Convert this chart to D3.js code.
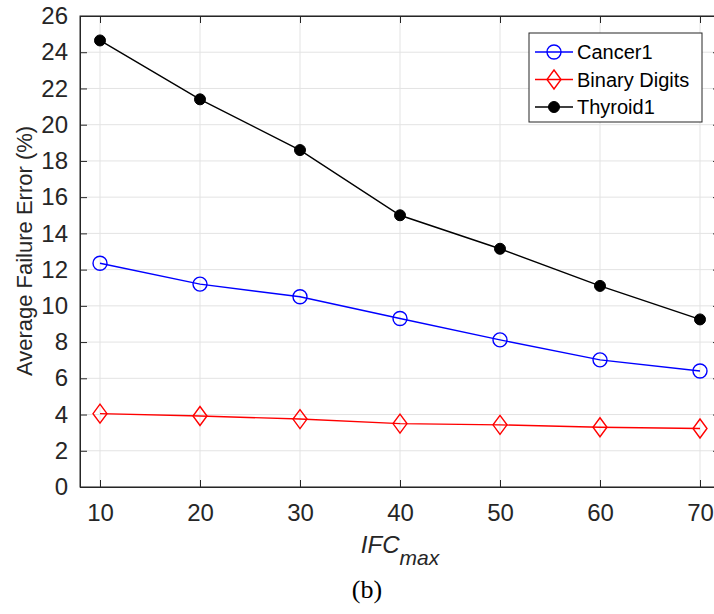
<!DOCTYPE html>
<html>
<head>
<meta charset="utf-8">
<script src="https://cdn.jsdelivr.net/npm/d3@7"></script>
<style>
  body { margin: 0; background: #fff; }
  text { font-family: "Liberation Sans", Arial, sans-serif; }
</style>
</head>
<body>
<div id="viz"></div>
<script>
const width = 714
const height = 614
const margin = {top: 16, bottom: 127, right: -6, left: 80}

// data
const ifc = [10, 20, 30, 40, 50, 60, 70]
const cancer1 = [12.35, 11.2, 10.5, 9.3, 8.12, 7.02, 6.4]
const binaryDigits = [4.05, 3.92, 3.75, 3.5, 3.43, 3.3, 3.23]
const thyroid1 = [24.65, 21.4, 18.6, 15.0, 13.15, 11.1, 9.25]
const xTicks = [10, 20, 30, 40, 50, 60, 70]
const yTicks = d3.range(0, 27, 2)

const series = [
  {name: "Cancer1", values: cancer1, color: "#0000ff", marker: "circle"},
  {name: "Binary Digits", values: binaryDigits, color: "#ff0000", marker: "diamond"},
  {name: "Thyroid1", values: thyroid1, color: "#000000", marker: "dot"}
]

const svg = d3.select("#viz").append("svg")
  .attr("width", width)
  .attr("height", height)

const xScale = d3.scaleLinear().domain([8, 72]).range([margin.left, width - margin.right])
const yScale = d3.scaleLinear().domain([0, 26]).range([height - margin.bottom, margin.top])

const x0 = xScale.range()[0], x1 = xScale.range()[1]
const y0 = yScale.range()[0], y1 = yScale.range()[1]

// grid
svg.append("g").selectAll("line").data(xTicks).enter().append("line")
  .attr("x1", d => xScale(d)).attr("x2", d => xScale(d))
  .attr("y1", y0).attr("y2", y1)
  .attr("stroke", "#e3e3e3").attr("stroke-width", 1)
svg.append("g").selectAll("line").data(yTicks).enter().append("line")
  .attr("x1", x0).attr("x2", x1)
  .attr("y1", d => yScale(d)).attr("y2", d => yScale(d))
  .attr("stroke", "#e3e3e3").attr("stroke-width", 1)

// box
svg.append("rect")
  .attr("x", x0).attr("y", y1)
  .attr("width", x1 - x0).attr("height", y0 - y1)
  .attr("fill", "none").attr("stroke", "#262626").attr("stroke-width", 1)

const xAxisG = svg.append("g")
  .attr("transform", "translate(0," + y0 + ")")
  .call(d3.axisBottom(xScale).tickValues(xTicks).tickSize(-7).tickPadding(17))
const xTopG = svg.append("g")
  .attr("transform", "translate(0," + y1 + ")")
  .call(d3.axisTop(xScale).tickValues(xTicks).tickSize(-7).tickFormat(""))
const yAxisG = svg.append("g")
  .attr("transform", "translate(" + x0 + ",0)")
  .call(d3.axisLeft(yScale).tickValues(yTicks).tickSize(-7).tickPadding(12))
const yRightG = svg.append("g")
  .attr("transform", "translate(" + x1 + ",0)")
  .call(d3.axisRight(yScale).tickValues(yTicks).tickSize(-7).tickFormat(""))

;[xAxisG, xTopG, yAxisG, yRightG].forEach(g => {
  g.select(".domain").attr("stroke", "#262626")
  g.selectAll(".tick line").attr("stroke", "#262626")
  g.selectAll(".tick text")
    .attr("fill", "#262626")
    .style("font-size", "24px")
    .style("font-family", "Liberation Sans, Arial, sans-serif")
})

// lines and markers
const line = d3.line()
  .x((d, i) => xScale(ifc[i]))
  .y(d => yScale(d))

series.forEach(s => {
  svg.append("path")
    .datum(s.values)
    .attr("d", line)
    .attr("fill", "none")
    .attr("stroke", s.color)
    .attr("stroke-width", 1.4)

  const pts = svg.append("g").selectAll(".pt").data(s.values).enter()
  drawMarker(pts, s, (d, i) => xScale(ifc[i]), d => yScale(d))
})

function drawMarker(sel, s, fx, fy) {
  if (s.marker === "circle") {
    sel.append("circle")
      .attr("cx", fx).attr("cy", fy).attr("r", 7)
      .attr("fill", "none").attr("stroke", s.color).attr("stroke-width", 1.4)
  } else if (s.marker === "diamond") {
    sel.append("path")
      .attr("d", (d, i) => {
        const x = fx(d, i), y = fy(d, i)
        return "M" + x + "," + (y - 9.5) + "L" + (x + 7) + "," + y + "L" + x + "," + (y + 9.5) + "L" + (x - 7) + "," + y + "Z"
      })
      .attr("fill", "none").attr("stroke", s.color).attr("stroke-width", 1.4)
  } else {
    sel.append("circle")
      .attr("cx", fx).attr("cy", fy).attr("r", 5.5)
      .attr("fill", s.color).attr("stroke", s.color)
  }
}

// legend
const lg = svg.append("g").attr("transform", "translate(529,33)")
lg.append("rect")
  .attr("width", 173).attr("height", 89)
  .attr("fill", "#fff").attr("stroke", "#262626").attr("stroke-width", 1)
series.forEach((s, i) => {
  const cy = 19 + i * 27.5
  lg.append("line")
    .attr("x1", 6).attr("x2", 44).attr("y1", cy).attr("y2", cy)
    .attr("stroke", s.color).attr("stroke-width", 1.4)
  const m = lg.append("g").datum(0)
  drawMarker(m, s, () => 25, () => cy)
  lg.append("text")
    .attr("x", 48).attr("y", cy + 7)
    .style("font-size", "20px")
    .attr("fill", "#000")
    .text(s.name)
})

// y-axis label
svg.append("text")
  .attr("transform", "rotate(-90)")
  .attr("x", -251)
  .attr("y", 32)
  .attr("text-anchor", "middle")
  .attr("fill", "#262626")
  .style("font-size", "22px")
  .text("Average Failure Error (%)")

// x-axis label
const xl = svg.append("text")
  .attr("x", 400)
  .attr("y", 553)
  .attr("text-anchor", "middle")
  .attr("fill", "#262626")
  .style("font-size", "24px")
  .style("font-style", "italic")
xl.append("tspan").text("IFC")
xl.append("tspan").attr("dy", 12).style("font-size", "21px").text("max")

// caption
svg.append("text")
  .attr("x", 367)
  .attr("y", 598)
  .attr("text-anchor", "middle")
  .attr("fill", "#000")
  .style("font-size", "26px")
  .style("font-family", "Liberation Serif, serif")
  .text("(b)")
</script>
</body>
</html>
